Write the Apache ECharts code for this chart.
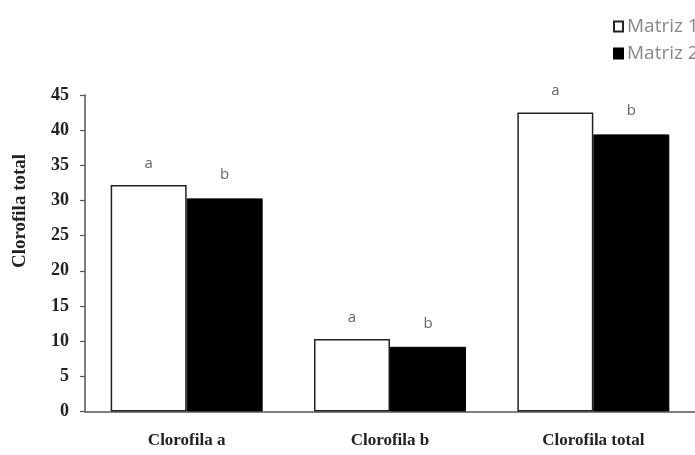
<!DOCTYPE html>
<html>
<head>
<meta charset="utf-8">
<script src="https://cdn.jsdelivr.net/npm/echarts@6/dist/echarts.min.js"></script>
<style>
  html, body { margin: 0; padding: 0; background: #fff; }
  #chart { width: 695px; height: 455px; }
</style>
</head>
<body>
<div id="chart"></div>
<script>
// Chlorophyll content per matrix
const categories = ['Clorofila a', 'Clorofila b', 'Clorofila total'];
const matriz1 = [32.2, 10.3, 42.5];
const matriz2 = [30.3, 9.2, 39.4];
const letters1 = ['a', 'a', 'a'];
const letters2 = ['b', 'b', 'b'];
const yTicks = [0, 5, 10, 15, 20, 25, 30, 35, 40, 45];

const serif = '"Liberation Serif", "Times New Roman", serif';
const sans = '"Open Sans", "DejaVu Sans", sans-serif';

const chart = echarts.init(document.getElementById('chart'), null, { renderer: 'canvas' });

chart.setOption({
  backgroundColor: '#ffffff',
  animation: false,
  legend: {
    orient: 'vertical',
    left: 608,
    top: 12,
    icon: 'rect',
    itemWidth: 9,
    itemHeight: 10,
    itemGap: 8,
    textStyle: { color: '#888', fontFamily: sans, fontSize: 19, padding: [0, 0, 0, -1] },
    data: ['Matriz 1', 'Matriz 2']
  },
  grid: { left: 85, top: 95, width: 616, bottom: 43.5, containLabel: false },
  xAxis: {
    type: 'category',
    data: categories,
    axisLine: { lineStyle: { color: '#555', width: 1.5 } },
    axisTick: { show: false },
    axisLabel: { color: '#222', fontFamily: serif, fontWeight: 'bold', fontSize: 17, margin: 21 }
  },
  yAxis: {
    type: 'value',
    min: yTicks[0],
    max: yTicks[yTicks.length - 1],
    interval: yTicks[1] - yTicks[0],
    splitLine: { show: false },
    axisLine: { show: true, lineStyle: { color: '#555', width: 1.5 } },
    axisTick: { show: true, length: 5, lineStyle: { color: '#555', width: 1.2 } },
    axisLabel: { color: '#222', fontFamily: serif, fontWeight: 'bold', fontSize: 18, margin: 16 }
  },
  graphic: [{
    type: 'text',
    x: 20,
    y: 211,
    rotation: Math.PI / 2,
    style: {
      text: 'Clorofila total',
      fill: '#222',
      font: 'bold 19px ' + serif,
      textAlign: 'center',
      textVerticalAlign: 'middle'
    }
  }],
  series: [
    {
      name: 'Matriz 1',
      type: 'bar',
      data: matriz1,
      barWidth: 76,
      barGap: '0%',
      itemStyle: { color: '#ffffff', borderColor: '#222', borderWidth: 1.5 },
      label: {
        show: true,
        position: 'top',
        distance: 14,
        color: '#666',
        fontFamily: sans,
        fontSize: 15,
        formatter: p => letters1[p.dataIndex]
      }
    },
    {
      name: 'Matriz 2',
      type: 'bar',
      data: matriz2,
      barWidth: 76,
      itemStyle: { color: '#000000', borderColor: '#000', borderWidth: 1 },
      label: {
        show: true,
        position: 'top',
        distance: 16,
        color: '#666',
        fontFamily: sans,
        fontSize: 15,
        formatter: p => letters2[p.dataIndex]
      }
    }
  ]
});
</script>
</body>
</html>
